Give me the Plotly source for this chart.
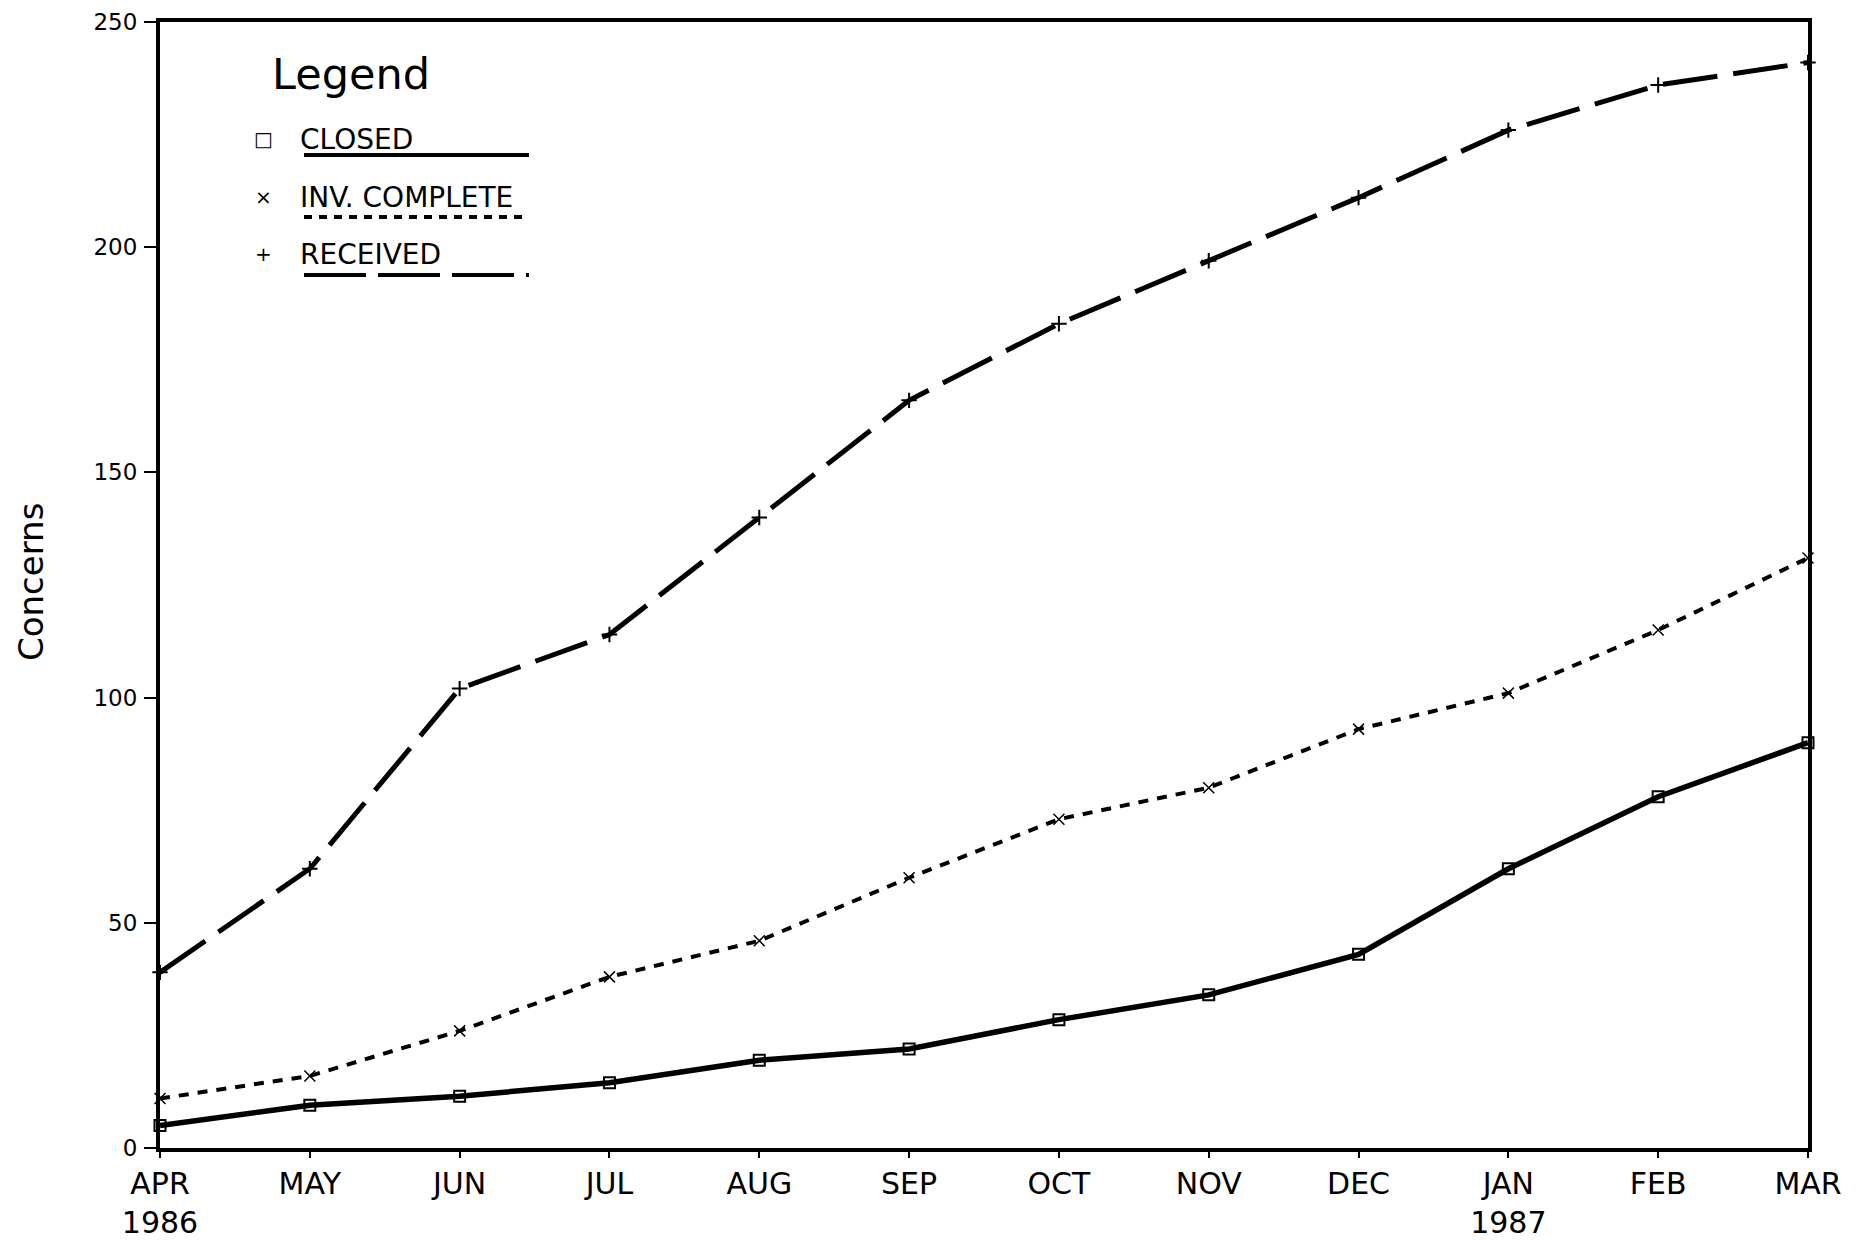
import plotly.graph_objects as go

# ---- data ----
months = ["APR<br>1986", "MAY", "JUN", "JUL", "AUG", "SEP", "OCT", "NOV", "DEC",
          "JAN<br>1987", "FEB", "MAR"]
received = [39, 62, 102, 114, 140, 166, 183, 197, 211, 226, 236, 241]
inv_complete = [11, 16, 26, 38, 46, 60, 73, 80, 93, 101, 115, 131]
closed = [5, 9.5, 11.5, 14.5, 19.5, 22, 28.5, 34, 43, 62, 78, 90]
y_ticks = [0, 50, 100, 150, 200, 250]
legend_labels = ["CLOSED", "INV. COMPLETE", "RECEIVED"]

# page is offset by the browser's default 8px body margin
OFF = 8
PAGE_W, PAGE_H = 1863, 1240
W, H = PAGE_W - OFF, PAGE_H - OFF
# plot box in page pixels
BOX_L, BOX_R, BOX_T, BOX_B = 160, 1808, 22, 1148
L, R, T, B = BOX_L - OFF, PAGE_W - BOX_R, BOX_T - OFF, PAGE_H - BOX_B
FONT = "DejaVu Sans, Arial, sans-serif"


def px_x(px):
    return (px - BOX_L) / (BOX_R - BOX_L)


def px_y(py):
    return (BOX_B - py) / (BOX_B - BOX_T)


fig = go.Figure()

fig.add_trace(go.Scatter(
    x=months, y=received, mode="lines+markers", name="RECEIVED",
    line=dict(color="black", width=5, dash="55px,16px"),
    marker=dict(symbol="cross-thin-open", size=11, line=dict(color="black", width=2)),
    cliponaxis=False, showlegend=False))

fig.add_trace(go.Scatter(
    x=months, y=inv_complete, mode="lines+markers", name="INV. COMPLETE",
    line=dict(color="black", width=4, dash="10px,9px"),
    marker=dict(symbol="x-thin-open", size=11, line=dict(color="black", width=1.5)),
    cliponaxis=False, showlegend=False))

fig.add_trace(go.Scatter(
    x=months, y=closed, mode="lines+markers", name="CLOSED",
    line=dict(color="black", width=5.5),
    marker=dict(symbol="square-open", size=11, color="black",
                line=dict(color="black", width=2)),
    cliponaxis=False, showlegend=False))

annotations = [
    dict(text="Concerns", x=px_x(31), y=px_y(582), xref="paper", yref="paper",
         textangle=-90, showarrow=False, font=dict(size=34, family=FONT, color="black"),
         xanchor="center", yanchor="middle"),
    dict(text="Legend", x=px_x(270), y=px_y(74), xref="paper", yref="paper",
         showarrow=False, font=dict(size=43, family=FONT, color="black"),
         xanchor="left", yanchor="middle"),
]

legend_y = [139, 197, 254]
underline_y = [155, 217, 275]
symbols = ["□", "×", "+"]
dashes = ["solid", "8px,7px", "62px,12px"]
shapes = []
for lab, ly, uy, sym, dsh in zip(legend_labels, legend_y, underline_y, symbols, dashes):
    annotations.append(dict(text=lab, x=px_x(298), y=px_y(ly), xref="paper", yref="paper",
                            showarrow=False, xanchor="left", yanchor="middle",
                            font=dict(size=28, family=FONT, color="black")))
    annotations.append(dict(text=sym, x=px_x(263), y=px_y(ly), xref="paper", yref="paper",
                            showarrow=False, xanchor="center", yanchor="middle",
                            font=dict(size=20, family=FONT, color="black")))
    shapes.append(dict(type="line", xref="paper", yref="paper",
                       x0=px_x(304), x1=px_x(529), y0=px_y(uy), y1=px_y(uy),
                       line=dict(color="black", width=4, dash=dsh)))

fig.update_layout(
    width=W, height=H,
    margin=dict(l=L, r=R, t=T, b=B, pad=0),
    plot_bgcolor="white", paper_bgcolor="white",
    font=dict(family=FONT, color="black"),
    annotations=annotations, shapes=shapes,
    xaxis=dict(type="category", range=[0, 11], showgrid=False, zeroline=False,
               automargin=False,
               showline=True, linecolor="black", linewidth=4, mirror=True,
               ticks="outside", ticklen=6, tickwidth=2, tickcolor="black",
               ticklabelstandoff=0, ticklabeloverflow="allow",
               tickfont=dict(size=30, family=FONT, color="black")),
    yaxis=dict(range=[0, 250], tickvals=y_ticks, showgrid=False, zeroline=False,
               automargin=False,
               showline=True, linecolor="black", linewidth=4, mirror=True,
               ticks="outside", ticklen=12, tickwidth=2, tickcolor="black",
               ticklabelstandoff=2, ticklabeloverflow="allow",
               tickfont=dict(size=23, family=FONT, color="black")),
)

fig.write_html("out.html")
